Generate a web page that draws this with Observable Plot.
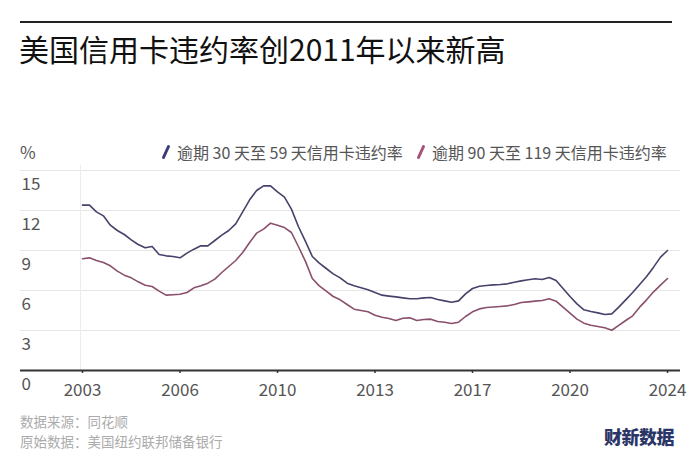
<!DOCTYPE html>
<html>
<head>
<meta charset="utf-8">
<script src="https://cdn.jsdelivr.net/npm/d3@7"></script>
<script src="https://cdn.jsdelivr.net/npm/@observablehq/plot@0.6"></script>
<style>
  html, body { margin: 0; padding: 0; background: #fff; }
  #wrap { position: relative; width: 690px; height: 463px; overflow: hidden; font-family: "Noto Sans CJK SC", "Noto Sans", sans-serif; }
  #rule { position: absolute; left: 20px; top: 21px; width: 652px; height: 1.5px; background: #222; }
  #title { position: absolute; left: 19px; top: 31px; font-size: 30px; line-height: 34px; color: #111; white-space: nowrap; }
  #unit { position: absolute; left: 20px; top: 141px; font-size: 17px; line-height: 22px; color: #555; }
  .leg { position: absolute; top: 142px; font-size: 16px; line-height: 20px; color: #555; white-space: nowrap; display: flex; align-items: center; }
  .leg svg { margin-right: 6px; }
  #chart { position: absolute; left: 0; top: 160px; }
  .cap { position: absolute; left: 20px; font-size: 13.5px; line-height: 18px; color: #ababab; white-space: nowrap; }
  #logo { position: absolute; left: 604px; top: 425px; font-size: 18px; line-height: 22px; font-weight: 900; color: #2b3668; letter-spacing: -0.5px; white-space: nowrap; }
</style>
</head>
<body>
<div id="wrap">
  <div id="rule"></div>
  <div id="title">美国信用卡违约率创2011年以来新高</div>
  <div id="unit">%</div>
  <div id="leg1" class="leg" style="left:161px"></div>
  <div id="leg2" class="leg" style="left:416px"></div>
  <div id="chart"></div>
  <div class="cap" style="top:412px">数据来源：同花顺</div>
  <div class="cap" style="top:432px">原始数据：美国纽约联邦储备银行</div>
  <div id="logo">财新数据</div>
</div>
<script>
// ---- data (quarterly, 2003Q1 – 2024Q1) ----
const seriesNames = ["逾期 30 天至 59 天信用卡违约率", "逾期 90 天至 119 天信用卡违约率"];
const seriesColors = ["#46426a", "#8a4f6c"];
const legendColors = ["#3d3a78", "#a4527c"];
const startYear = 2003;

const rate30to59 = [
  12.4, 12.4, 11.9, 11.6,
  10.9, 10.5, 10.2, 9.8,
  9.45, 9.2, 9.3, 8.7,
  8.6, 8.55, 8.45, 8.8,
  9.1, 9.35, 9.35, 9.75,
  10.15, 10.5, 11.0, 11.9,
  12.8, 13.5, 13.85, 13.85,
  13.4, 13.0, 12.1, 10.8,
  9.7, 8.55, 8.05, 7.65,
  7.25, 6.95, 6.55, 6.35,
  6.2, 6.05, 5.85, 5.65,
  5.58, 5.52, 5.45, 5.38,
  5.38, 5.45, 5.48, 5.32,
  5.22, 5.12, 5.22, 5.75,
  6.15, 6.32, 6.38, 6.42,
  6.45, 6.5, 6.62, 6.72,
  6.8, 6.88, 6.82, 6.98,
  6.75, 6.15, 5.55, 5.0,
  4.55, 4.42, 4.32, 4.2,
  4.25, 4.75, 5.3, 5.85,
  6.45, 7.05, 7.75, 8.5,
  9.0
];
const rate90to119 = [
  8.38, 8.45, 8.25, 8.1,
  7.85, 7.45, 7.15, 6.95,
  6.65, 6.4, 6.3, 5.95,
  5.65, 5.68, 5.72, 5.85,
  6.2, 6.35, 6.55, 6.85,
  7.35, 7.8, 8.25, 8.85,
  9.6, 10.3, 10.6, 11.05,
  10.9, 10.72, 10.35, 9.3,
  8.2, 6.9, 6.35, 5.95,
  5.55, 5.3, 4.95, 4.6,
  4.5, 4.4, 4.15, 4.0,
  3.9, 3.75, 3.92, 3.95,
  3.75, 3.82, 3.85, 3.68,
  3.62, 3.52, 3.62, 4.05,
  4.4, 4.62, 4.72, 4.76,
  4.8, 4.85, 4.95, 5.1,
  5.15, 5.2, 5.25, 5.38,
  5.2, 4.75, 4.3, 3.85,
  3.55, 3.4, 3.3, 3.2,
  3.02, 3.38, 3.75, 4.1,
  4.75, 5.3, 5.9, 6.4,
  6.9
];
const yTicks = [0, 3, 6, 9, 12, 15];
const xTicks = [2003, 2006.5, 2010, 2013.5, 2017, 2020.5, 2024];
const xTickLabels = ["2003", "2006", "2010", "2013", "2017", "2020", "2024"];

// ---- build table ----
const rows = [];
[rate30to59, rate90to119].forEach((arr, s) => {
  arr.forEach((v, i) => rows.push({ t: startYear + i / 4, v, s: seriesNames[s] }));
});

// legend
function swatch(color) {
  return `<svg width="10" height="16" viewBox="0 0 10 16"><line x1="2.5" y1="13.5" x2="7.5" y2="2.5" stroke="${color}" stroke-width="3" stroke-linecap="round"/></svg>`;
}
document.getElementById("leg1").innerHTML = swatch(legendColors[0]) + `<span>${seriesNames[0]}</span>`;
document.getElementById("leg2").innerHTML = swatch(legendColors[1]) + `<span>${seriesNames[1]}</span>`;

const font = '"Noto Sans CJK SC", "Noto Sans", sans-serif';
const chart = Plot.plot({
  width: 690,
  height: 240,
  marginLeft: 20,
  marginRight: 10,
  marginTop: 10,
  marginBottom: 30,
  style: { fontFamily: font, background: "transparent", overflow: "visible" },
  x: { domain: [2003, 2024], range: [82, 667] },
  y: { domain: [0, 15], axis: null },
  color: { domain: seriesNames, range: seriesColors },
  marks: [
    Plot.ruleY(yTicks.filter(d => d > 0), { stroke: "#e6e6e6", strokeWidth: 1 }),
    Plot.ruleX([2003], { y1: 0, y2: 15.4, stroke: "#ececec", strokeWidth: 1, dx: -2 }),
    Plot.text(yTicks, { y: d => d, text: d => String(d), frameAnchor: "left", textAnchor: "start", dx: 1, dy: 14, fontSize: 17, fill: "#555" }),
    Plot.line(rows, { x: "t", y: "v", z: "s", stroke: "s", strokeWidth: 1.6, curve: "linear" }),
    Plot.ruleY([0], { stroke: "#333", strokeWidth: 2.2 }),
    Plot.axisX({ ticks: xTicks, tickFormat: d => xTickLabels[xTicks.indexOf(d)], tickSize: 3, tickPadding: 10, fontSize: 17, color: "#555", stroke: "#333", strokeWidth: 1.5, label: null })
  ]
});
document.getElementById("chart").appendChild(chart);
</script>
</body>
</html>
